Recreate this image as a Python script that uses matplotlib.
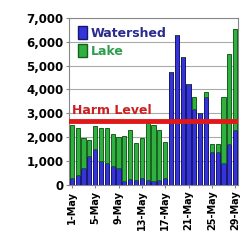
import matplotlib.pyplot as plt
from matplotlib.patches import Patch
import numpy as np

# daily counts for May
days = [f"{d}-May" for d in range(1, 30)]
watershed = [300, 400, 700, 1200, 1500, 1000, 900, 800, 700, 150,
             250, 200, 300, 200, 150, 200, 300, 4750, 6300, 5350,
             4250, 3200, 3000, 3700, 1400, 1400, 900, 1700, 2300]
lake = [2200, 2000, 1250, 700, 950, 1400, 1500, 1350, 1300, 1900,
        2050, 1550, 1650, 2400, 2350, 2100, 1500, 0, 0, 0,
        0, 500, 0, 200, 300, 300, 2800, 3800, 4250]
harm_level = 2700

fig = plt.figure(figsize=(2.41, 2.45), dpi=100)
ax = fig.add_axes([0.286, 0.245, 0.702, 0.682])

x = np.arange(len(days))
ax.bar(x, watershed, width=0.7, color="#3434d8", edgecolor="#161670", linewidth=0.7, zorder=3)
ax.bar(x, lake, bottom=watershed, width=0.7, color="#30b040", edgecolor="#16601c", linewidth=0.7, zorder=3)

ax.axhline(harm_level, color="#e01818", linewidth=3.5, zorder=4)
ax.text(0.0, harm_level + 280, "Harm Level", color="#cc2020", fontsize=9,
        fontweight="bold", zorder=5)

ax.set_xlim(-0.5, len(days) - 0.5)
ax.set_ylim(0, 7000)
ax.set_yticks(range(0, 7001, 1000))
ax.set_yticklabels([f"{v:,}" for v in range(0, 7001, 1000)], fontsize=8.5, fontweight="bold")
ax.set_xticks(x[::4])
ax.set_xticklabels(days[::4], rotation=90, fontsize=7, fontweight="bold")
ax.tick_params(axis="both", length=2, color="#888888", pad=2)
ax.grid(axis="y", color="#aaaaaa", linewidth=0.8, zorder=0)
for s in ax.spines.values():
    s.set_color("#888888")

handles = [Patch(facecolor="#3434d8", edgecolor="#161670"),
           Patch(facecolor="#30b040", edgecolor="#16601c")]
leg = ax.legend(handles, ["Watershed", "Lake"], loc="upper left",
                bbox_to_anchor=(-0.01, 1.02), frameon=False,
                prop={"size": 9, "weight": "bold"},
                handlelength=0.7, handleheight=1.3, handletextpad=0.3,
                labelspacing=0.3)
leg.get_texts()[0].set_color("#2a2a90")
leg.get_texts()[1].set_color("#2e9e4e")

fig.savefig("out.png", dpi=100)
